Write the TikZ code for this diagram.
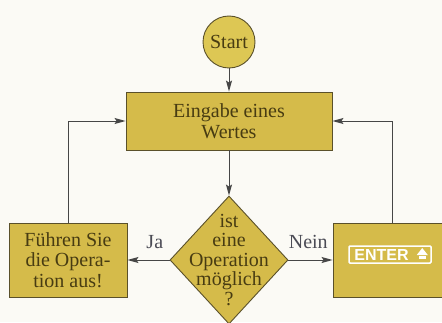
\documentclass[tikz,border=0pt]{standalone}
\usepackage{fontspec}
\setmainfont{Liberation Serif}
\newfontfamily\keyfont{Liberation Sans}
\usetikzlibrary{arrows.meta,shapes.geometric}

\definecolor{paper}{RGB}{251,250,245}
\definecolor{gold}{RGB}{213,187,74}
\definecolor{goldlight}{RGB}{221,199,84}
\definecolor{rim}{RGB}{90,80,42}
\definecolor{ink}{RGB}{72,60,18}
\definecolor{wire}{RGB}{70,70,70}
\definecolor{lblink}{RGB}{75,75,85}

\tikzset{
  box/.style={draw=rim, fill=gold, line width=0.9pt, text=ink, align=center,
    font=\fontsize{20}{20.5}\selectfont},
  flow/.style={-{Stealth[length=11pt,width=6pt,inset=2pt]}, draw=wire, line width=1pt},
  answer/.style={text=lblink, font=\fontsize{20}{20}\selectfont},
  keycap/.style={draw=white, line width=1.5pt, rounded corners=1pt,
    minimum width=82pt, minimum height=17pt, inner sep=0pt},
}

\begin{document}
\begin{tikzpicture}[x=1pt,y=1pt]
\useasboundingbox (0,0) rectangle (442,322);
\fill[paper] (0,0) rectangle (442,322);

\node[box, circle, fill=goldlight, minimum size=52pt, inner sep=0pt] (start) at (229,280) {Start};
\node[box, minimum width=206pt, minimum height=58pt] (input) at (229,201) {Eingabe eines\\Wertes};
\node[box, diamond, minimum width=118pt, minimum height=128pt, inner sep=0pt] (test) at (229,62) {};
\node[text=ink, align=center, font=\fontsize{20}{19.5}\selectfont] (question) at (test) {ist\\eine\\Operation\\möglich\\?};
\node[box, minimum width=118pt, minimum height=74pt] (act) at (68,62) {Führen Sie\\die Opera-\\tion aus!};
\node[box, minimum width=118pt, minimum height=74pt] (enter) at (392,62) {};

% Taste
\node[keycap] (key) at (390,67.5) {};
\node[text=white, inner sep=0pt, font=\keyfont\bfseries\fontsize{16}{16}\selectfont] (keylabel) at ([xshift=-8.5pt]key.center) {ENTER};
\fill[white] ([xshift=-15pt,yshift=-0.5pt]key.east) -- ++(11,0) -- ++(-5.5,7) -- cycle;
\fill[white] ([xshift=-13pt,yshift=-4.5pt]key.east) rectangle ++(7,3);

\draw[flow] (start) -- (input);
\draw[flow] (input) -- (test);
\draw[flow] (test) -- node[answer, above=7pt, pos=0.35] {Ja} (act);
\draw[flow] (test) -- node[answer, above=7pt, pos=0.45] {Nein} (enter);
\draw[flow] (act.north) |- (input.west);
\draw[flow] (enter.north) |- (input.east);

\end{tikzpicture}
\end{document}
